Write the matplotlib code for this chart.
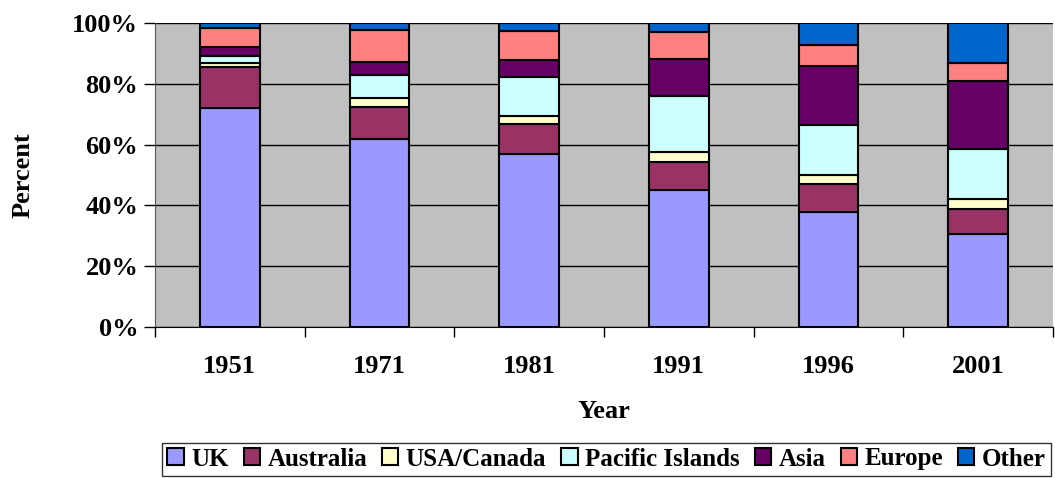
import matplotlib.pyplot as plt
import numpy as np

years = ["1951", "1971", "1981", "1991", "1996", "2001"]
series_names = ["UK", "Australia", "USA/Canada", "Pacific Islands", "Asia", "Europe", "Other"]
uk = [72.2, 61.9, 56.9, 45.2, 37.8, 30.7]
australia = [13.3, 10.5, 9.9, 9.2, 9.2, 8.0]
usa_canada = [1.5, 3.0, 2.5, 3.1, 3.0, 3.3]
pacific = [2.2, 7.5, 12.8, 18.4, 16.6, 16.5]
asia = [2.9, 4.3, 5.8, 12.3, 19.4, 22.5]
europe = [6.3, 10.5, 9.5, 8.8, 6.6, 6.0]
other = [1.6, 2.3, 2.6, 3.0, 7.4, 13.0]
colors = ["#9999FF", "#993366", "#FFFFCC", "#CCFFFF", "#660066", "#FF8080", "#0066CC"]

plt.rcParams["font.family"] = ["Liberation Serif", "DejaVu Serif"]
plt.rcParams["font.weight"] = "bold"
FS = 19

fig = plt.figure(figsize=(10.55, 4.78), dpi=100)
ax = fig.add_axes([155 / 1055, 1 - 327 / 478, 898 / 1055, 304 / 478])
ax.set_facecolor("#C0C0C0")

x = np.arange(len(years))
bottom = np.zeros(len(years))
for name, vals, col in zip(
    series_names, [uk, australia, usa_canada, pacific, asia, europe, other], colors
):
    vals = np.array(vals)
    ax.bar(x, vals, 0.4, bottom=bottom, color=col, edgecolor="black",
           linewidth=1.5, label=name, zorder=3)
    bottom += vals

ax.set_xlim(-0.5, len(years) - 0.5)
ax.set_ylim(0, 100)
ax.set_yticks(np.arange(0, 101, 20))
ax.set_yticklabels([f"{v}%" for v in range(0, 101, 20)], fontsize=FS, fontweight="bold")
ax.yaxis.grid(True, color="black", linewidth=1, zorder=0)
ax.set_axisbelow(True)
ax.tick_params(axis="y", direction="out", length=8, width=1, pad=4)

ax.set_xticks(x)
ax.set_xticklabels(years, fontsize=FS, fontweight="bold")
ax.set_xticks(np.arange(-0.5, len(years), 1), minor=True)
ax.tick_params(axis="x", which="major", length=0, pad=20)
ax.tick_params(axis="x", which="minor", length=7, width=1, color="black")

for side in ["top", "right"]:
    ax.spines[side].set_visible(False)
ax.spines["left"].set_color("#555555")
ax.spines["bottom"].set_color("black")

ax.set_xlabel("Year", fontsize=FS, fontweight="bold", labelpad=16)
ax.set_ylabel("Percent", fontsize=FS, fontweight="bold", labelpad=27)

leg = fig.legend(
    loc="lower right", bbox_to_anchor=(1053 / 1055, 0.0), ncol=7,
    frameon=True, fancybox=False, edgecolor="black",
    handlelength=0.65, handleheight=0.65, handletextpad=0.3, columnspacing=0.6,
    borderpad=0.2, borderaxespad=0.1, prop={"weight": "bold", "size": 18},
)
leg.get_frame().set_linewidth(1)
for h in leg.legend_handles:
    h.set_linewidth(1.5)

fig.savefig("out.png", dpi=100)
